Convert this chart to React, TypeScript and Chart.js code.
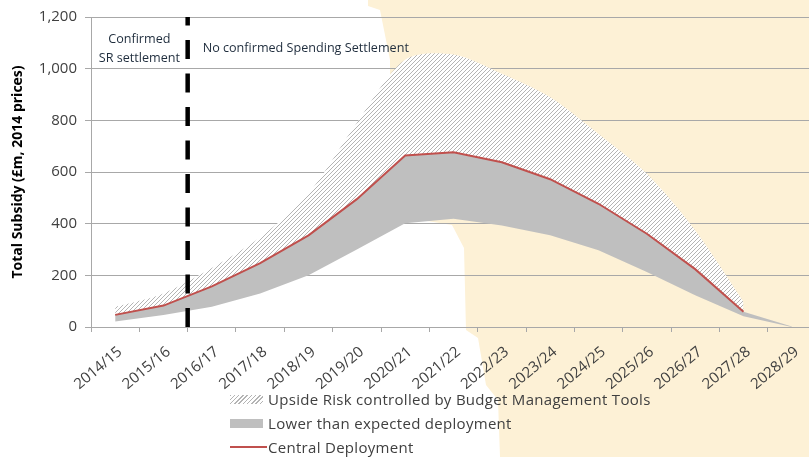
import React, { useEffect, useRef } from "react";
import { Chart, registerables } from "chart.js";

Chart.register(...registerables);

// ---------- data ----------
const categories = [
  "2014/15", "2015/16", "2016/17", "2017/18", "2018/19", "2019/20", "2020/21",
  "2021/22", "2022/23", "2023/24", "2024/25", "2025/26", "2026/27", "2027/28", "2028/29",
];
const upsideUpper = [78, 130, 228, 347, 517, 790, 1035, 1055, 980, 889, 747, 593, 374, 98, null];
const lowerBandTop = [47, 83, 157, 247, 355, 495, 664, 676, 638, 572, 477, 361, 224, 59, 2];
const lowerBandBottom = [21, 46, 78, 130, 200, 300, 402, 419, 393, 355, 297, 213, 123, 42, 0];
const centralDeployment = [47, 83, 157, 247, 355, 495, 664, 676, 638, 572, 477, 361, 224, 59, null];

const yMin = 0;
const yMax = 1200;
const yStep = 200;

const settlementBoundary = 1.5; // between 2015/16 and 2016/17
const leftNoteLines = ["Confirmed", "SR settlement"];
const rightNote = "No confirmed Spending Settlement";
const yTitle = "Total Subsidy (£m, 2014 prices)";

const legendUpside = "Upside Risk controlled by Budget Management Tools";
const legendLower = "Lower than expected deployment";
const legendCentral = "Central Deployment";

// ---------- styles ----------
const FONT = "'Open Sans', sans-serif";
const RED = "#c0504d";
const GREY_FILL = "#bfbfbf";
const HATCH_LINE = "#b4b4b4";
const GRID = "#a8a8a8";
const TEXT = "#404040";
const BEIGE = "#fdf1d6";

function makeHatch(ctx: CanvasRenderingContext2D) {
  const c = document.createElement("canvas");
  c.width = 4;
  c.height = 4;
  const g = c.getContext("2d")!;
  g.fillStyle = "#ffffff";
  g.fillRect(0, 0, 4, 4);
  g.strokeStyle = HATCH_LINE;
  g.lineWidth = 1;
  g.beginPath();
  g.moveTo(0, 4);
  g.lineTo(4, 0);
  g.moveTo(-1, 1);
  g.lineTo(1, -1);
  g.moveTo(3, 5);
  g.lineTo(5, 3);
  g.stroke();
  return ctx.createPattern(c, "repeat")!;
}

const settlementPlugin = {
  id: "settlement",
  afterDatasetsDraw(chart: any) {
    const { ctx, chartArea, scales } = chart;
    const x = scales.x.getPixelForValue(settlementBoundary);
    ctx.save();
    ctx.strokeStyle = "#000000";
    ctx.lineWidth = 4.5;
    ctx.setLineDash([19, 14.5]);
    ctx.beginPath();
    ctx.moveTo(x, chartArea.bottom);
    ctx.lineTo(x, chartArea.top);
    ctx.stroke();
    ctx.setLineDash([]);
    ctx.fillStyle = "#1f2d3d";
    ctx.font = `12.6px ${FONT}`;
    ctx.textBaseline = "middle";
    ctx.textAlign = "center";
    const lx = (chartArea.left + x) / 2;
    ctx.fillText(leftNoteLines[0], lx, chartArea.top + 22);
    ctx.fillText(leftNoteLines[1], lx, chartArea.top + 41);
    ctx.textAlign = "left";
    ctx.fillText(rightNote, x + 15, chartArea.top + 31);
    ctx.restore();
  },
};

export default function App() {
  const canvasRef = useRef<HTMLCanvasElement | null>(null);

  useEffect(() => {
    const canvas = canvasRef.current!;
    const ctx = canvas.getContext("2d")!;
    const hatch = makeHatch(ctx);

    const chart = new Chart(canvas, {
      type: "line",
      data: {
        labels: categories,
        datasets: [
          {
            label: legendUpside,
            data: upsideUpper,
            fill: "+1",
            backgroundColor: hatch,
            borderColor: "rgba(0,0,0,0)",
            borderWidth: 0,
            pointRadius: 0,
            tension: 0.3,
            order: 3,
          },
          {
            label: legendLower,
            data: lowerBandTop,
            fill: "+1",
            backgroundColor: GREY_FILL,
            borderColor: "rgba(0,0,0,0)",
            borderWidth: 0,
            pointRadius: 0,
            tension: 0,
            order: 2,
          },
          {
            label: "lower bound",
            data: lowerBandBottom,
            fill: false,
            borderColor: "rgba(0,0,0,0)",
            borderWidth: 0,
            pointRadius: 0,
            tension: 0,
            order: 1,
          },
          {
            label: legendCentral,
            data: centralDeployment,
            fill: false,
            borderColor: RED,
            borderWidth: 2,
            pointRadius: 0,
            tension: 0,
            order: -1,
          },
        ],
      },
      options: {
        responsive: false,
        animation: false,
        events: [],
        layout: { padding: { top: 16, right: 1, left: 0, bottom: 0 } },
        plugins: {
          legend: { display: false },
          tooltip: { enabled: false },
        },
        scales: {
          x: {
            type: "category",
            offset: true,
            grid: {
              offset: true,
              drawOnChartArea: false,
              drawTicks: true,
              tickLength: 5,
              color: GRID,
            },
            border: { color: GRID, width: 1 },
            ticks: {
              autoSkip: false,
              minRotation: 40,
              maxRotation: 40,
              labelOffset: 5,
              color: TEXT,
              padding: 11,
              font: { family: FONT, size: 15 },
            },
            afterFit: (scale: any) => {
              scale.height = 63;
            },
          },
          y: {
            min: yMin,
            max: yMax,
            ticks: {
              stepSize: yStep,
              color: TEXT,
              padding: 8,
              font: { family: FONT, size: 15 },
            },
            grid: { color: GRID, tickLength: 6, lineWidth: 1 },
            border: { color: GRID, width: 1 },
            title: {
              display: true,
              text: yTitle,
              color: "#000000",
              font: { family: FONT, size: 14, weight: "bold" },
              padding: { top: 10, bottom: 0 },
            },
            afterFit: (scale: any) => {
              scale.width = 91;
            },
          },
        },
      },
      plugins: [settlementPlugin],
    });

    return () => chart.destroy();
  }, []);

  const row: React.CSSProperties = {
    display: "flex",
    alignItems: "center",
    height: 24,
    whiteSpace: "nowrap",
  };
  const swatchBox: React.CSSProperties = {
    width: 38,
    display: "flex",
    alignItems: "center",
  };

  return (
    <div
      style={{
        position: "fixed",
        left: 0,
        top: 0,
        width: 809,
        height: 457,
        overflow: "hidden",
        background: "#ffffff",
      }}
    >
      <div
        style={{
          position: "absolute",
          left: 0,
          top: 0,
          width: 809,
          height: 457,
          background: BEIGE,
          clipPath:
            "polygon(368px 0px, 809px 0px, 809px 457px, 500px 457px, 498px 400px, 486px 385px, 478px 338px, 466px 330px, 464px 248px, 452px 225px, 390px 215px, 390px 60px, 380px 10px, 368px 6px)",
        }}
      />
      <div style={{ position: "absolute", left: 0, top: 0, width: 817, height: 390 }}>
        <canvas ref={canvasRef} width={817} height={390} style={{ display: "block" }} />
      </div>
      <div
        style={{
          position: "absolute",
          left: 230,
          top: 387,
          fontFamily: FONT,
          fontSize: 15,
          letterSpacing: "0.3px",
          color: TEXT,
        }}
      >
        <div style={row}>
          <div style={swatchBox}>
            <div
              style={{
                width: 33,
                height: 9,
                background: `repeating-linear-gradient(135deg, ${HATCH_LINE} 0px, ${HATCH_LINE} 1px, #ffffff 1px, #ffffff 3px)`,
              }}
            />
          </div>
          <span>{legendUpside}</span>
        </div>
        <div style={row}>
          <div style={swatchBox}>
            <div style={{ width: 33, height: 9, background: GREY_FILL }} />
          </div>
          <span>{legendLower}</span>
        </div>
        <div style={row}>
          <div style={swatchBox}>
            <div style={{ width: 37, height: 2, background: RED }} />
          </div>
          <span>{legendCentral}</span>
        </div>
      </div>
    </div>
  );
}
